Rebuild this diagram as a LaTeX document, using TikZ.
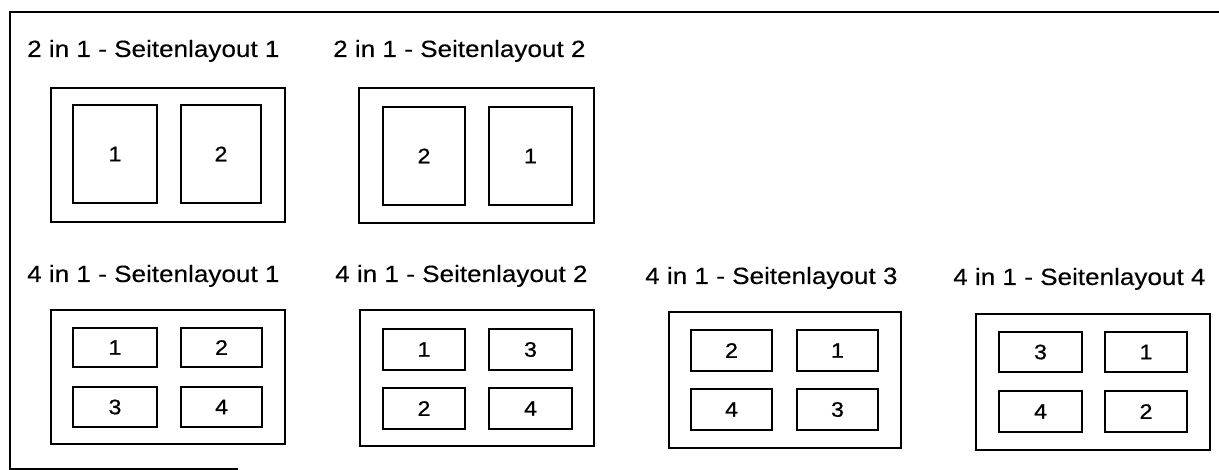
\documentclass[tikz,border=0pt]{standalone}
\usepackage{fontspec}
\setmainfont[FakeStretch=1.11]{Liberation Sans}
\newfontfamily\digitfont[FakeStretch=1.1,FakeBold=0.8]{Liberation Sans}
\newfontfamily\titlefont[FakeStretch=1.11,FakeBold=0.25]{Liberation Sans}
\begin{document}
\begin{tikzpicture}[x=1pt,y=-1pt,
  frameline/.style={line width=2.6pt},
  outerbox/.style={draw,line width=2.1pt,rectangle,inner sep=0pt},
  pagebox/.style={draw,line width=2.1pt,rectangle,inner sep=0pt,font=\digitfont\fontsize{21}{21}\selectfont},
  title/.style={anchor=base west,inner sep=0pt,font=\titlefont\fontsize{23.5}{24}\selectfont}]
\useasboundingbox (0,0) rectangle (1219,470);
% frame
\coordinate (ftr) at (1219,12);
\coordinate (ftl) at (10,12);
\coordinate (fbl) at (10,469);
\coordinate (fbr) at (238,469);
\draw[frameline] (ftr) -- (ftl) -- (fbl) -- (fbr);
% titles
\node[title] (t1) at (27,57) {2 in 1 - Seitenlayout 1};
\node[title] (t2) at (333,57) {2 in 1 - Seitenlayout 2};
\node[title] (t3) at (27,282) {4 in 1 - Seitenlayout 1};
\node[title] (t4) at (335,282) {4 in 1 - Seitenlayout 2};
\node[title] (t5) at (645,284) {4 in 1 - Seitenlayout 3};
\node[title] (t6) at (953,285) {4 in 1 - Seitenlayout 4};
% 2 in 1 layout 1
\node[outerbox,minimum width=234,minimum height=134] (o1) at (168,155) {};
\node[pagebox,minimum width=84,minimum height=98] (o1a) at (115,154) {1};
\node[pagebox,minimum width=80,minimum height=98] (o1b) at (221,154) {2};
% 2 in 1 layout 2
\node[outerbox,minimum width=235,minimum height=135] (o2) at (476.5,155.5) {};
\node[pagebox,minimum width=82,minimum height=98] (o2a) at (424,156) {2};
\node[pagebox,minimum width=83,minimum height=98] (o2b) at (530.5,156) {1};
% 4 in 1 layout 1
\node[outerbox,minimum width=234,minimum height=134] (o3) at (168,377) {};
\node[pagebox,minimum width=84,minimum height=39] (o3a) at (115,347.5) {1};
\node[pagebox,minimum width=81,minimum height=39] (o3b) at (221.5,347.5) {2};
\node[pagebox,minimum width=84,minimum height=40] (o3c) at (115,407) {3};
\node[pagebox,minimum width=81,minimum height=40] (o3d) at (221.5,407) {4};
% 4 in 1 layout 2
\node[outerbox,minimum width=234,minimum height=136] (o4) at (477,378) {};
\node[pagebox,minimum width=82,minimum height=41] (o4a) at (424,349.5) {1};
\node[pagebox,minimum width=83,minimum height=41] (o4b) at (530.5,349.5) {3};
\node[pagebox,minimum width=82,minimum height=41] (o4c) at (424,408.5) {2};
\node[pagebox,minimum width=83,minimum height=41] (o4d) at (530.5,408.5) {4};
% 4 in 1 layout 3
\node[outerbox,minimum width=232,minimum height=136] (o5) at (785,380) {};
\node[pagebox,minimum width=81,minimum height=41] (o5a) at (731.5,350.5) {2};
\node[pagebox,minimum width=81,minimum height=41] (o5b) at (837.5,350.5) {1};
\node[pagebox,minimum width=81,minimum height=41] (o5c) at (731.5,409.5) {4};
\node[pagebox,minimum width=81,minimum height=41] (o5d) at (837.5,409.5) {3};
% 4 in 1 layout 4
\node[outerbox,minimum width=234,minimum height=136] (o6) at (1093,382) {};
\node[pagebox,minimum width=83,minimum height=40] (o6a) at (1040.5,352) {3};
\node[pagebox,minimum width=82,minimum height=40] (o6b) at (1146,352) {1};
\node[pagebox,minimum width=83,minimum height=41] (o6c) at (1040.5,411.5) {4};
\node[pagebox,minimum width=82,minimum height=41] (o6d) at (1146,411.5) {2};
\end{tikzpicture}
\end{document}
